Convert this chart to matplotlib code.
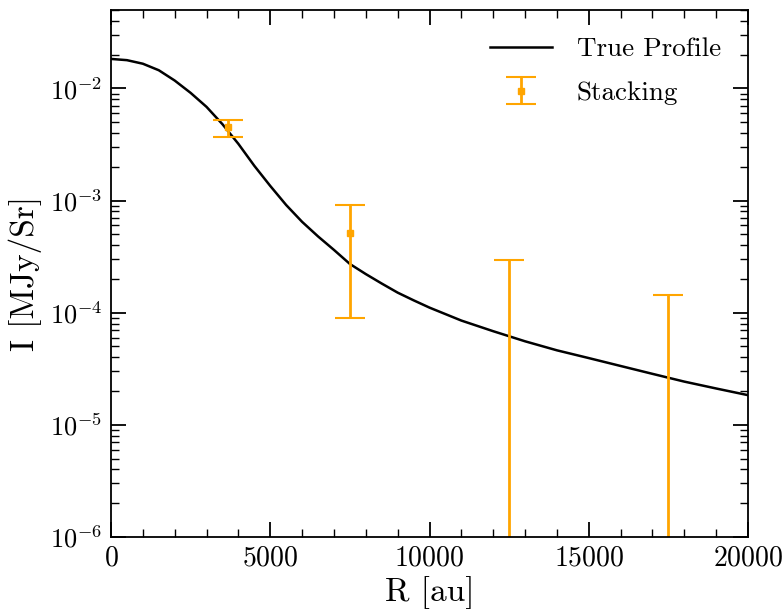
import numpy as np
import matplotlib
matplotlib.use("Agg")
import matplotlib.pyplot as plt
from matplotlib.ticker import MultipleLocator, LogLocator, NullFormatter

plt.rcParams['font.family'] = 'serif'
plt.rcParams['font.serif'] = ['cmr10']
plt.rcParams['mathtext.fontset'] = 'cm'
plt.rcParams['axes.formatter.use_mathtext'] = True
plt.rcParams['axes.unicode_minus'] = False

# True profile
prof_R = [0, 500, 1000, 1500, 2000, 2500, 3000, 3500, 4000, 4500, 5000, 5500,
          6000, 6500, 7000, 7500, 8000, 8500, 9000, 9500, 10000, 11000, 12000,
          13000, 14000, 15000, 16000, 17000, 18000, 19000, 20000]
prof_I = [1.832e-2, 1.786e-2, 1.660e-2, 1.452e-2, 1.175e-2, 9.12e-3, 6.84e-3,
          4.79e-3, 3.20e-3, 2.04e-3, 1.35e-3, 9.12e-4, 6.46e-4, 4.79e-4,
          3.63e-4, 2.72e-4, 2.21e-4, 1.82e-4, 1.51e-4, 1.29e-4, 1.11e-4,
          8.51e-5, 6.84e-5, 5.56e-5, 4.62e-5, 3.94e-5, 3.35e-5, 2.85e-5,
          2.43e-5, 2.11e-5, 1.84e-5]

# Stacking points
stack_R = [3673, 7500, 12500, 17500]
stack_I = [4.5e-3, 5.13e-4, 1e-8, 1e-8]
stack_lo = [3.70e-3, 8.9e-5, 1e-9, 1e-9]
stack_hi = [5.25e-3, 9.2e-4, 2.93e-4, 1.43e-4]

fig = plt.figure(figsize=(7.84, 6.11), dpi=100)
ax = fig.add_axes([0.1416, 0.1211, 0.8125, 0.8625])

ax.plot(prof_R, prof_I, color='black', lw=1.8, label='True Profile')
yerr = [np.array(stack_I) - np.array(stack_lo), np.array(stack_hi) - np.array(stack_I)]
ax.errorbar(stack_R, stack_I, yerr=yerr, fmt='s', color='orange', ms=5,
            elinewidth=2, capsize=11, capthick=1.5, label='Stacking')

ax.set_yscale('log')
ax.set_xlim(0, 20000)
ax.set_ylim(1e-6, 5e-2)
ax.xaxis.set_major_locator(MultipleLocator(5000))
ax.xaxis.set_minor_locator(MultipleLocator(1000))
ax.yaxis.set_major_locator(LogLocator(base=10, numticks=20))
ax.yaxis.set_minor_locator(LogLocator(base=10, subs=np.arange(2, 10), numticks=20))
ax.yaxis.set_minor_formatter(NullFormatter())

ax.tick_params(which='both', direction='in', top=True, right=True)
ax.tick_params(axis='x', labelsize=20)
ax.tick_params(axis='y', labelsize=19)
ax.tick_params(which='major', length=11, width=1.3, pad=6)
ax.tick_params(which='minor', length=5.5, width=1.0)
for s in ax.spines.values():
    s.set_linewidth(1.3)

ax.set_xlabel('R [au]', fontsize=24, labelpad=3)
ax.set_ylabel('I [MJy/Sr]', fontsize=24, labelpad=6)

ax.legend(loc='upper right', frameon=False, fontsize=19.5, handlelength=2.3,
          handletextpad=0.9, labelspacing=0.75, borderaxespad=0.6)

fig.savefig('out.png', dpi=100)
